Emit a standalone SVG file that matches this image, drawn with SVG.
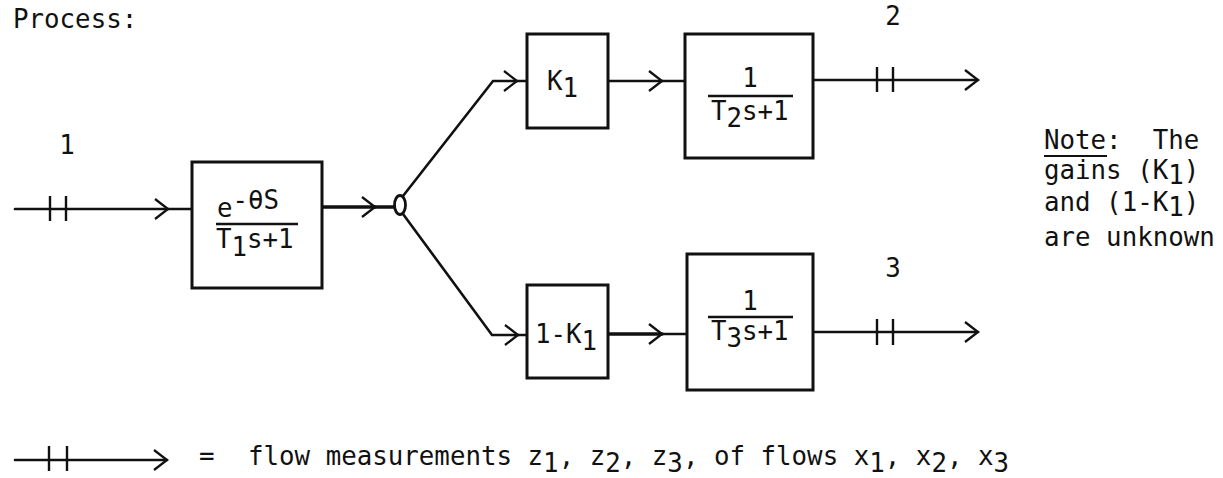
<svg xmlns="http://www.w3.org/2000/svg" width="1223" height="478" viewBox="0 0 1223 478">
<defs>
<style>
text{font-family:"DejaVu Sans Mono","Liberation Mono",monospace;font-size:25.8px;fill:#111;}
.box{fill:#fff;stroke:#111;stroke-width:3;}
.ln{fill:none;stroke:#111;stroke-width:2.6;stroke-linecap:round;}
.bold{stroke-width:3.6;}
.tick{fill:none;stroke:#111;stroke-width:2.4;}
.frac{stroke:#111;stroke-width:2.6;}
</style>
<marker id="chev" markerUnits="userSpaceOnUse" markerWidth="20" markerHeight="24" refX="14" refY="11" orient="auto">
<path d="M1,1 L14,11 L1,21" fill="none" stroke="#111" stroke-width="2.3" stroke-linejoin="miter"/>
</marker>
</defs>
<rect width="1223" height="478" fill="#fff"/>

<g id="connectors">
<path class="ln" d="M15,209 H168" marker-end="url(#chev)"/>
<path class="ln" d="M168,209 H192"/>
<path class="tick" d="M50,196 V221 M66,196 V221"/>
<path class="ln bold" d="M322,207 H375" marker-end="url(#chev)"/>
<path class="ln bold" d="M375,207 H394"/>
<path class="ln" d="M403,196 L493,81 H517" marker-end="url(#chev)"/>
<path class="ln" d="M517,81 H527"/>
<path class="ln" d="M403,214 L492,335 H518" marker-end="url(#chev)"/>
<path class="ln" d="M518,335 H527"/>
<path class="ln" d="M608,81 H662" marker-end="url(#chev)"/>
<path class="ln" d="M662,81 H685"/>
<path class="ln bold" d="M608,334 H662" marker-end="url(#chev)"/>
<path class="ln" d="M662,334 H687"/>
<path class="ln" d="M813,80 H978" marker-end="url(#chev)"/>
<path class="tick" d="M877,67 V92 M893,67 V92"/>
<path class="ln" d="M813,332 H978" marker-end="url(#chev)"/>
<path class="tick" d="M877,319 V345 M893,319 V345"/>
</g>

<g id="title"><text x="13" y="28">Process:</text></g>

<g id="label-1"><text x="67" y="154" text-anchor="middle">1</text></g>
<g id="label-2"><text x="893" y="25" text-anchor="middle">2</text></g>
<g id="label-3"><text x="893" y="277" text-anchor="middle">3</text></g>

<g id="splitter"><ellipse cx="400" cy="205" rx="5.5" ry="9.5" fill="#fff" stroke="#111" stroke-width="2.8"/></g>

<g id="box-delay">
<rect class="box" x="192" y="162" width="130" height="126"/>
<text x="217" y="217">e<tspan dy="-8">-θS</tspan></text>
<line class="frac" x1="216" y1="224" x2="298" y2="224"/>
<text x="216" y="248">T<tspan dy="8">1</tspan><tspan dy="-8">s+1</tspan></text>
</g>

<g id="box-K1">
<rect class="box" x="527" y="34" width="81" height="94"/>
<text x="547" y="90">K<tspan dy="7">1</tspan></text>
</g>

<g id="box-1-K1">
<rect class="box" x="527" y="285" width="81" height="93"/>
<text x="535" y="343">1-K<tspan dy="7">1</tspan></text>
</g>

<g id="box-T2">
<rect class="box" x="685" y="34" width="128" height="124"/>
<text x="750" y="87" text-anchor="middle">1</text>
<line class="frac" x1="708" y1="96" x2="793" y2="96"/>
<text x="711" y="120">T<tspan dy="7">2</tspan><tspan dy="-7">s+1</tspan></text>
</g>

<g id="box-T3">
<rect class="box" x="687" y="254" width="126" height="136"/>
<text x="750" y="310" text-anchor="middle">1</text>
<line class="frac" x1="708" y1="317" x2="793" y2="317"/>
<text x="711" y="340">T<tspan dy="7">3</tspan><tspan dy="-7">s+1</tspan></text>
</g>

<g id="note">
<text x="1044" y="149" xml:space="preserve">Note:  The</text>
<line x1="1044" y1="156" x2="1107" y2="156" stroke="#111" stroke-width="2"/>
<text x="1044" y="179" xml:space="preserve">gains (K<tspan dy="5">1</tspan><tspan dy="-5">)</tspan></text>
<text x="1044" y="211" xml:space="preserve">and (1-K<tspan dy="5">1</tspan><tspan dy="-5">)</tspan></text>
<text x="1044" y="246">are unknown</text>
</g>

<g id="legend">
<path class="ln" d="M15,460 H167" marker-end="url(#chev)"/>
<path class="tick" d="M49,446 V471 M67,446 V471"/>
<text x="199" y="465">=</text>
<text x="248" y="465" xml:space="preserve">flow measurements z<tspan dy="7">1</tspan><tspan dy="-7">, z</tspan><tspan dy="7">2</tspan><tspan dy="-7">, z</tspan><tspan dy="7">3</tspan><tspan dy="-7">, of flows x</tspan><tspan dy="7">1</tspan><tspan dy="-7">, x</tspan><tspan dy="7">2</tspan><tspan dy="-7">, x</tspan><tspan dy="7">3</tspan></text>
</g>
</svg>
